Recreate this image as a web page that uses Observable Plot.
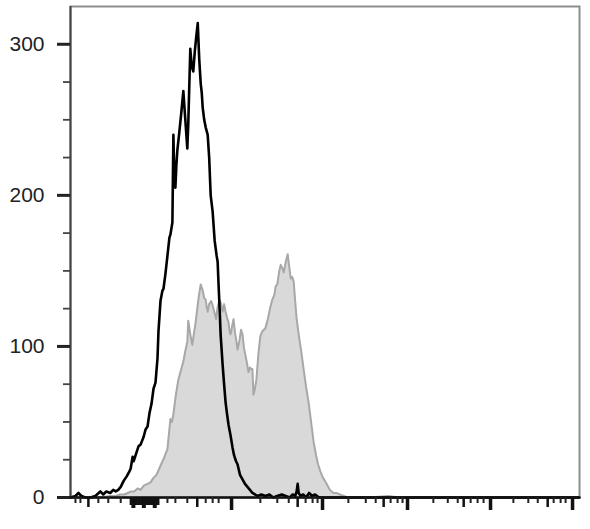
<!DOCTYPE html>
<html>
<head>
<meta charset="utf-8">
<script src="https://cdn.jsdelivr.net/npm/d3@7"></script>
<script src="https://cdn.jsdelivr.net/npm/@observablehq/plot@0.6"></script>
<style>
  html, body { margin: 0; padding: 0; background: #fff; }
  #chart { width: 590px; height: 529px; }
</style>
</head>
<body>
<div id="chart"></div>
<script>
// Black (unstained/control) histogram: channel vs count
const blackChannel = [0,10,16,22,30,40,50,60,66,72,80,86,91,96,101,107,113,118,121,125,127,133,137,141,147,151,155,159,163,167,171,175,177,181,185,187,191,195,199,201,203,205,207,209,211,213,215,219,223,227,231,235,237,241,244,247,250,253,256,259,262,264,266,269,272,276,279,282,286,290,294,296,298,300,302,306,309,312,315,318,322,326,329,333,336,341,346,351,356,361,366,371,376,384,392,400,408,416,425,433,441,447,452,455,457,459,463,468,474,480,486,492,500,520,600,800,1024];
const blackCount   = [0,1,3,1,0,0,1,4,2,4,3,5,4,5,7,11,14,17,19,27,24,30,34,35,40,45,47,56,62,72,76,92,110,130,137,138,148,160,172,174,178,182,240,210,205,220,230,242,255,269,250,231,248,297,285,282,295,305,314,290,274,268,258,250,245,240,225,200,189,170,160,156,140,125,108,88,75,63,55,48,41,33,28,24,22,15,12,9,7,5,3,2,1,2,1,2,0,1,2,1,0,2,1,4,9,3,1,2,0,3,1,2,0,0,0,0,0];

// Gray (stained) filled histogram: channel vs count
const grayChannel = [0,40,60,80,91,100,108,115,122,128,135,141,148,155,161,167,173,181,188,195,201,204,207,212,217,222,227,231,235,237,241,245,248,251,255,258,262,266,269,272,274,276,279,283,286,290,293,296,300,303,306,309,312,315,318,320,322,325,328,331,334,336,340,343,346,349,352,355,358,361,364,366,368,371,374,378,382,386,392,397,402,406,410,413,416,420,423,426,429,433,437,440,443,446,449,452,455,459,464,469,474,479,484,489,494,498,503,508,512,517,522,529,535,542,550,557,600,640,660,720,1024];
const grayCount   = [0,0,0,1,1,2,2,3,4,4,6,5,8,9,10,13,15,21,26,32,52,50,55,68,78,84,90,97,103,117,108,101,108,114,125,133,141,137,132,131,126,123,128,130,127,122,118,126,131,128,123,128,123,119,116,110,108,113,118,109,103,98,104,111,108,99,94,89,83,86,85,85,68,72,78,95,107,110,112,118,126,131,134,140,141,150,154,152,149,156,161,153,145,146,143,130,118,108,97,85,73,63,50,37,28,22,17,13,11,8,5,3,3,2,1,0,0,1,0,0,0];

// Y axis ticks (count)
const yMajorTicks = [0, 100, 200, 300];
const yMinorTicks = [25, 50, 75, 125, 150, 175, 225, 250, 275];

// X axis ticks (channel units; axis is unlabeled)
const xMajorTicks = [324, 507, 678, 845, 1010];
const xMidTicks   = [36, 255, 457, 630, 791, 960];
const xMinorTicks = [10, 20, 56, 76, 101, 195, 211, 235, 272, 286, 298, 382, 416, 439, 473, 487, 497, 559, 594, 614, 644, 658, 668, 730, 759, 779, 805, 819, 831, 891, 921, 940, 972, 986, 996];
const xZeroTicks  = [121,124,127,130,133,136,139,142,145,148,151,154,157,160,163,166,169,172,175,177];
const xZeroLong   = [125, 128, 146, 149, 168, 171];

const black = blackChannel.map((c, i) => ({channel: c, count: blackCount[i]}));
const gray  = grayChannel.map((c, i) => ({channel: c, count: grayCount[i]}));

const blank = () => "";

const chart = Plot.plot({
  width: 590,
  height: 529,
  marginLeft: 70,
  marginRight: 11,
  marginTop: 6,
  marginBottom: 32,
  style: {fontFamily: "'Liberation Sans', Arial, sans-serif", background: "#fff", color: "#222"},
  x: {domain: [0, 1024]},
  y: {domain: [0, 325]},
  marks: [
    Plot.areaY(gray, {x: "channel", y: "count", fill: "#d9d9d9"}),
    Plot.lineY(gray, {x: "channel", y: "count", stroke: "#a8a8a8", strokeWidth: 2}),
    Plot.frame({stroke: "#8e8e8e", strokeWidth: 2}),
    Plot.lineY(black, {x: "channel", y: "count", stroke: "#000", strokeWidth: 2.6, strokeLinejoin: "round"}),
    Plot.ruleX([0], {stroke: "#444", strokeWidth: 2}),
    Plot.ruleY([0], {stroke: "#111", strokeWidth: 2.5}),
    Plot.axisY({ticks: yMajorTicks, tickSize: 13, tickPadding: 13, strokeWidth: 3, stroke: "#222", fontSize: 21, label: null, fill: "#222"}),
    Plot.axisY({ticks: yMinorTicks, tickSize: 7, tickFormat: blank, strokeWidth: 1.8, stroke: "#444", label: null}),
    Plot.axisX({ticks: xMajorTicks, tickSize: 13, tickFormat: blank, strokeWidth: 3.5, stroke: "#111", label: null}),
    Plot.axisX({ticks: xMidTicks, tickSize: 10, tickFormat: blank, strokeWidth: 2.5, stroke: "#111", label: null}),
    Plot.axisX({ticks: xMinorTicks, tickSize: 6, tickFormat: blank, strokeWidth: 2, stroke: "#222", label: null}),
    Plot.axisX({ticks: xZeroTicks, tickSize: 8, tickFormat: blank, strokeWidth: 2, stroke: "#111", label: null}),
    Plot.axisX({ticks: xZeroLong, tickSize: 11, tickFormat: blank, strokeWidth: 2.5, stroke: "#111", label: null})
  ]
});

document.getElementById("chart").appendChild(chart);
</script>
</body>
</html>
